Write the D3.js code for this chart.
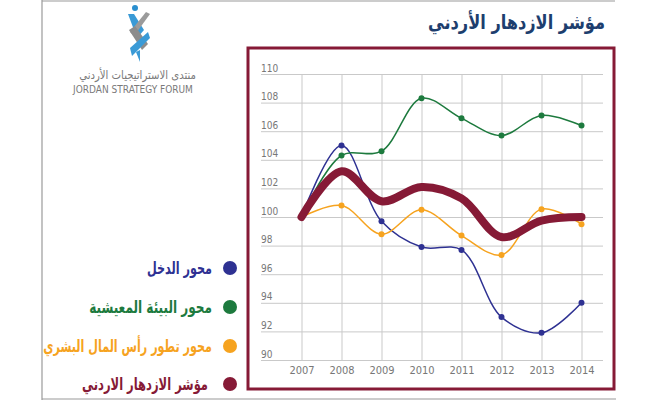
<!DOCTYPE html>
<html>
<head>
<meta charset="utf-8">
<script src="https://cdn.jsdelivr.net/npm/d3@7"></script>
<style>
  body { margin: 0; background: #fff; }
  svg { display: block; }
</style>
</head>
<body>
<div id="chart"></div>
<script>
var svgWidth = 658;
var svgHeight = 400;

// data
var years = [2007, 2008, 2009, 2010, 2011, 2012, 2013, 2014];
var income = [100, 105.0, 99.7, 97.9, 97.7, 93.0, 91.9, 94.0];
var living = [100, 104.3, 104.6, 108.3, 106.9, 105.7, 107.1, 106.4];
var human = [100, 100.8, 98.8, 100.5, 98.7, 97.35, 100.55, 99.5];
var index = [100, 103.2, 101.1, 102.1, 101.3, 98.6, 99.75, 100.0];
var yTicks = [90, 92, 94, 96, 98, 100, 102, 104, 106, 108, 110];

var seriesNames = ["محور الدخل", "محور البيئة المعيشية", "محور تطور رأس المال البشري", "مؤشر الازدهار الاردني"];
var seriesColors = ["#2e3192", "#1d7a3e", "#f6a31f", "#861a36"];

var svg = d3.select("#chart")
    .append("svg")
    .attr("width", svgWidth)
    .attr("height", svgHeight);

// squeeze a right-anchored text to a given width (narrow font look)
function fitText(sel, x, y, width) {
    sel.attr("text-anchor", "end").attr("x", 0).attr("y", 0);
    sel.each(function() {
        var w = this.getComputedTextLength();
        var k = w > 0 ? width / w : 1;
        d3.select(this).attr("transform", `translate(${x}, ${y}) scale(${k}, 1)`);
    });
}

// page frame
svg.append("line").attr("x1", 42).attr("y1", 1).attr("x2", 615).attr("y2", 1)
    .attr("stroke", "#9a9a9a").attr("stroke-width", 1.2);
svg.append("line").attr("x1", 42).attr("y1", 0).attr("x2", 42).attr("y2", 400)
    .attr("stroke", "#9a9a9a").attr("stroke-width", 1.2);
svg.append("line").attr("x1", 42).attr("y1", 399).attr("x2", 616).attr("y2", 399)
    .attr("stroke", "#9a9a9a").attr("stroke-width", 1.2);

// title
svg.append("text")
    .attr("font-family", "DejaVu Sans Condensed, DejaVu Sans")
    .attr("font-size", "20px")
    .attr("font-weight", "bold")
    .attr("fill", "#1d3e6e")
    .text("مؤشر الازدهار الأردني")
    .call(fitText, 605, 29, 177);

// logo (rough)
var logo = svg.append("g").attr("transform", "translate(138, 0)");
logo.append("circle").attr("cx", -3).attr("cy", 8).attr("r", 3).attr("fill", "#2a8fcf");
logo.append("path").attr("d", "M-10,14 L-4,14 L6,30 L-1,38 Z").attr("fill", "#3a9ad6");
logo.append("path").attr("d", "M8,12 L12,14 L-4,36 L-8,32 Z").attr("fill", "#9b9b9b");
logo.append("path").attr("d", "M-9,30 L-3,26 L10,44 L4,50 Z").attr("fill", "#8c8c8c");
logo.append("path").attr("d", "M10,32 L12,38 L-6,56 L-8,48 Z").attr("fill", "#3a9ad6");
logo.append("path").attr("d", "M-2,52 L2,50 L2,62 Z").attr("fill", "#3a9ad6");

svg.append("text")
    .attr("font-family", "DejaVu Sans Condensed, DejaVu Sans")
    .attr("font-size", "12px")
    .attr("fill", "#7a7a7a")
    .text("منتدى الاستراتيجيات الأردني")
    .call(fitText, 196, 79, 117);
svg.append("text")
    .attr("x", 133).attr("y", 93)
    .attr("text-anchor", "middle")
    .attr("font-family", "Liberation Sans Narrow, DejaVu Sans Condensed")
    .attr("font-size", "10px")
    .attr("fill", "#7a7a7a")
    .text("JORDAN STRATEGY FORUM");

// maroon chart frame
svg.append("rect")
    .attr("x", 248).attr("y", 48)
    .attr("width", 366).attr("height", 341)
    .attr("fill", "none")
    .attr("stroke", "#861a36")
    .attr("stroke-width", 3);

var xScale = d3.scaleLinear().domain([2007, 2014]).range([301.5, 581.5]);
var yScale = d3.scaleLinear().domain([90, 110]).range([360, 74]);

var gridLeft = 261;
var gridRight = 603;

// horizontal grid + y labels
var yAxis = svg.append("g")
    .attr("transform", `translate(${gridLeft}, 0)`)
    .call(d3.axisRight(yScale).tickValues(yTicks).tickSize(gridRight - gridLeft).tickFormat(d3.format("d")));
yAxis.select(".domain").remove();
yAxis.selectAll("line").attr("stroke", "#c9c9c9");
yAxis.selectAll("text")
    .attr("x", 0).attr("dy", "-3")
    .attr("text-anchor", "start")
    .attr("font-family", "Liberation Sans Narrow, DejaVu Sans Condensed")
    .attr("font-size", "10px")
    .attr("fill", "#777");

// vertical grid + x labels
var xAxis = svg.append("g")
    .attr("transform", `translate(0, ${yScale(90)})`)
    .call(d3.axisBottom(xScale).tickValues(years).tickSize(-(yScale(90) - yScale(110))).tickFormat(d3.format("d")));
xAxis.select(".domain").remove();
xAxis.selectAll("line").attr("stroke", "#c9c9c9");
xAxis.selectAll("text")
    .attr("y", 6)
    .attr("font-family", "Liberation Sans Narrow, DejaVu Sans Condensed")
    .attr("font-size", "11px")
    .attr("fill", "#777");

var lineGen = d3.line()
    .x(d => xScale(d.year))
    .y(d => yScale(d.value))
    .curve(d3.curveCatmullRom.alpha(0.5));

function toPoints(values) {
    return years.map((y, i) => ({ year: y, value: values[i] }));
}

var allSeries = [income, living, human];
allSeries.forEach(function(values, i) {
    var pts = toPoints(values);
    svg.append("path")
        .datum(pts)
        .attr("d", lineGen)
        .attr("fill", "none")
        .attr("stroke", seriesColors[i])
        .attr("stroke-width", 1.5);
    svg.append("g").selectAll("circle")
        .data(pts)
        .enter()
        .append("circle")
        .attr("cx", d => xScale(d.year))
        .attr("cy", d => yScale(d.value))
        .attr("r", 3)
        .attr("fill", seriesColors[i]);
});

svg.append("path")
    .datum(toPoints(index))
    .attr("d", lineGen)
    .attr("fill", "none")
    .attr("stroke", seriesColors[3])
    .attr("stroke-width", 8)
    .attr("stroke-linecap", "round")
    .attr("stroke-linejoin", "round");

// legend
var legendY = [268, 307, 346, 384];
var legendWidths = [65, 123, 169, 126];
seriesNames.forEach(function(name, i) {
    svg.append("circle")
        .attr("cx", 230).attr("cy", legendY[i]).attr("r", 7)
        .attr("fill", seriesColors[i]);
    svg.append("text")
        .attr("dy", "0.35em")
        .attr("font-family", "DejaVu Sans Condensed, DejaVu Sans")
        .attr("font-size", "17px")
        .attr("font-weight", "bold")
        .attr("fill", seriesColors[i])
        .text(name)
        .call(fitText, i === 3 ? 208 : 212, legendY[i], legendWidths[i]);
});
</script>
</body>
</html>
